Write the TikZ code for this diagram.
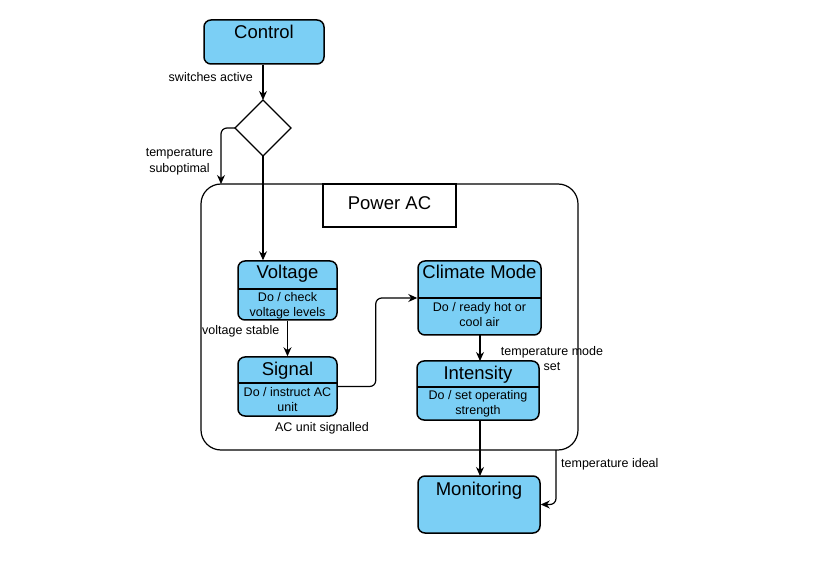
\documentclass[tikz,border=0pt]{standalone}
\usepackage{fontspec}
\setmainfont{Liberation Sans}
\usetikzlibrary{arrows.meta}
\definecolor{stfill}{HTML}{7BCFF5}
\tikzset{
  stbox/.style={draw, line width=1.5pt, fill=stfill, rounded corners=7pt, inner sep=0pt},
  ttl/.style={font=\fontsize{18.5}{20}\selectfont, inner sep=0pt, anchor=base},
  body/.style={font=\fontsize{12.5}{15}\selectfont, align=center, inner sep=0pt, anchor=north},
  lbl/.style={font=\fontsize{12.5}{15.5}\selectfont, align=center, inner sep=0pt},
  arr/.style={-{Stealth[length=9pt,width=8pt]}, line width=1.2pt, rounded corners=6pt},
  divl/.style={line width=1.5pt}
}
\begin{document}
\begin{tikzpicture}[x=1pt,y=-1pt]
\useasboundingbox (0,0) rectangle (833,569);
% container
\node[draw, line width=1.2pt, rounded corners=20pt, minimum width=377pt, minimum height=266pt, inner sep=0pt] (pwr) at (389.5,317) {};
\node[draw, line width=1.2pt, minimum width=133pt, minimum height=43pt, inner sep=0pt] (pwrt) at (389.5,205.5) {};
\node[ttl] (pwrtt) at (389.5,209.5) {Power AC};
% Control
\node[stbox, minimum width=120pt, minimum height=44pt] (ctrl) at (264,42) {};
\node[ttl] (ctrlt) at (264,38.5) {Control};
% diamond
\draw[line width=1.2pt] (263,100) -- (291,128) -- (263,156) -- (235,128) -- cycle;
\coordinate (dia) at (263,128);
\coordinate (dian) at (263,100);
\coordinate (dias) at (263,156);
\coordinate (diaw) at (235,128);
% Voltage
\node[stbox, minimum width=99pt, minimum height=59pt] (volt) at (287.5,290.5) {};
\draw[divl] (238,289) -- (337,289);
\node[ttl] (voltt) at (287.5,279) {Voltage};
\node[body] (voltb) at (287.5,292.5) {Do / check\\voltage levels};
% Signal
\node[stbox, minimum width=99pt, minimum height=59pt] (sig) at (287.5,386.5) {};
\draw[divl] (238,383) -- (337,383);
\node[ttl] (sigt) at (287.5,376) {Signal};
\node[body] (sigb) at (287.5,387.5) {Do / instruct AC\\unit};
% Climate Mode
\node[stbox, minimum width=123pt, minimum height=74pt] (clim) at (479.5,298) {};
\draw[divl] (418,298) -- (541,298);
\node[ttl] (climt) at (479.5,279) {Climate Mode};
\node[body] (climb) at (479.5,302.5) {Do / ready hot or\\cool air};
% Intensity
\node[stbox, minimum width=122pt, minimum height=59pt] (int) at (478,390.5) {};
\draw[divl] (417,387) -- (539,387);
\node[ttl] (intt) at (478,379.5) {Intensity};
\node[body] (intb) at (478,390.5) {Do / set operating\\strength};
% Monitoring
\node[stbox, minimum width=122pt, minimum height=57pt] (mon) at (479,504.5) {};
\node[ttl] (mont) at (479,495.5) {Monitoring};
% connectors
\draw[arr] (ctrl.south -| dian) -- (dian);
\coordinate (tsin) at (221,184);
\draw[arr] (diaw) -| (tsin);
\draw[arr] (dias) -- (dias |- volt.north);
\draw[arr] (volt.south) -- (sig.north);
\draw[arr] (sig.east) -- ++(38,0) |- (clim.west);
\draw[arr] (480,335) -- (480,361);
\draw[arr] (480,420) -- (480,476);
\coordinate (tid) at (556,450);
\draw[arr] (tid) |- (mon.east);
% labels
\node[lbl, anchor=east] (l1) at (253,77) {switches active};
\node[lbl] (l2) at (179.5,162) {temperature\\suboptimal};
\node[lbl, anchor=west] (l3) at (202,331.5) {voltage stable};
\node[lbl] (l4) at (322,428.5) {AC unit signalled};
\node[lbl] (l5) at (552,358.5) {temperature mode\\set};
\node[lbl, anchor=west] (l6) at (561,464.5) {temperature ideal};
\end{tikzpicture}
\end{document}
